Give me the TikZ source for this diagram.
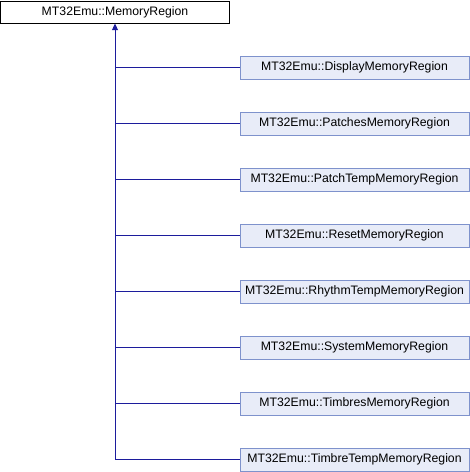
\documentclass[tikz,border=0pt]{standalone}
\usepackage{fontspec}
\setmainfont{Liberation Sans}
\usetikzlibrary{arrows.meta}
\definecolor{edgeblue}{HTML}{1C1C9C}
\definecolor{boxline}{HTML}{7E92CC}
\definecolor{boxfill}{HTML}{E8ECF8}
\begin{document}
\begin{tikzpicture}[x=0.75pt,y=-0.75pt,>={Triangle[width=4.5pt,length=5pt]},
    font=\fontsize{9.2}{11}\selectfont,
    basebox/.style={draw=black,fill=white,line width=0.75pt,inner sep=0pt,
        minimum width=171.75pt,minimum height=16.5pt},
    childbox/.style={draw=boxline,fill=boxfill,line width=0.75pt,inner sep=0pt,
        minimum width=171.75pt,minimum height=17.25pt},
    link/.style={edgeblue,line width=0.75pt}]
    \useasboundingbox (0,0) rectangle (470,472);

    % Base class
    \node[basebox] (mem) at (115,12) {MT32Emu::MemoryRegion};

    % Derived classes
    \node[childbox] (disp) at (354.5,67.5) {MT32Emu::DisplayMemoryRegion};
    \node[childbox] (patch) at (354.5,123.5) {MT32Emu::PatchesMemoryRegion};
    \node[childbox] (ptemp) at (354.5,179.5) {MT32Emu::PatchTempMemoryRegion};
    \node[childbox] (reset) at (354.5,235.5) {MT32Emu::ResetMemoryRegion};
    \node[childbox] (rtemp) at (354.5,291.5) {MT32Emu::RhythmTempMemoryRegion};
    \node[childbox] (sys) at (354.5,347.5) {MT32Emu::SystemMemoryRegion};
    \node[childbox] (timb) at (354.5,403.5) {MT32Emu::TimbresMemoryRegion};
    \node[childbox] (ttemp) at (354.5,459.5) {MT32Emu::TimbreTempMemoryRegion};

    % Inheritance trunk
    \draw[link,<-] (mem.south) -- (mem.south |- ttemp.west) -- (ttemp.west);

    % Branches
    \foreach \c in {disp,patch,ptemp,reset,rtemp,sys,timb}
        \draw[link] (mem.south |- \c.west) -- (\c.west);
\end{tikzpicture}
\end{document}
